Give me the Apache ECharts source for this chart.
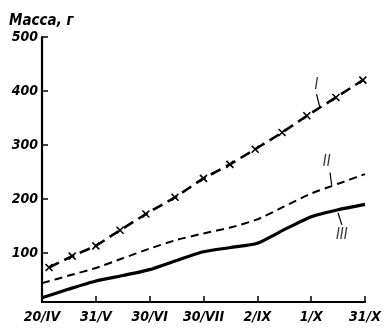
<!DOCTYPE html>
<html><head><meta charset="utf-8">
<script src="https://cdn.jsdelivr.net/npm/echarts@6/dist/echarts.min.js"></script>
<style>html,body{margin:0;padding:0;background:#fff}#c{width:384px;height:328px}</style>
</head><body><div id="c"></div>
<script>
var xTickLabels = ['20/IV','31/V','30/VI','30/VII','2/IX','1/X','31/X'];
var yTickValues = [100,200,300,400,500];
var yAxisTitle = 'Масса, г';

var seriesIx = [0.13,0.56,1.0,1.45,1.93,2.47,3.0,3.49,3.96,4.46,4.92,5.46,5.96];
var seriesIy = [73,94,113,142,172,203,238,264,292,323,354,388,420];
var seriesIIx = [0,0.5,1,1.5,2,2.5,3,3.5,4,4.5,5,5.5,6];
var seriesIIy = [44,58,72,90,108,124,136,147,162,186,210,228,246];
var seriesIIIx = [0,0.5,1,1.5,2,2.5,3,3.5,4,4.5,5,5.5,6];
var seriesIIIy = [17,33,48,58,69,86,102,110,118,143,167,180,190];

var labelNames = ['I','II','III'];
var labelPos = [[5.10,411],[5.29,268],[5.57,133]];
var leaderLines = [[[5.10,394],[5.16,370]],[[5.35,249],[5.38,226]],[[5.50,174],[5.57,152]]];

function pairs(xs, ys){ return xs.map(function(x,i){return [x, ys[i]];}); }

var font = {fontFamily:'"DejaVu Sans Condensed", "DejaVu Sans", sans-serif', fontStyle:'italic', color:'#000'};
var chart = echarts.init(document.getElementById('c'));
var series = [
  {type:'line', data:pairs(seriesIx,seriesIy), symbol:'path://M0,0L10,10M10,0L0,10', symbolSize:7,
   itemStyle:{color:'#000', borderColor:'#000', borderWidth:1.6},
   lineStyle:{color:'#000', width:2.6, type:[11,6]}, silent:true, animation:false},
  {type:'line', data:pairs(seriesIIx,seriesIIy), symbol:'none', smooth:0.2,
   lineStyle:{color:'#000', width:2, type:[8,5]}, animation:false},
  {type:'line', data:pairs(seriesIIIx,seriesIIIy), symbol:'none', smooth:0.2,
   lineStyle:{color:'#000', width:3.2}, animation:false}
];
leaderLines.forEach(function(l){
  series.push({type:'line', data:l, symbol:'none', lineStyle:{color:'#000', width:1.2}, animation:false});
});
series.push({type:'scatter', data:labelPos.map(function(p,i){return {value:p, name:labelNames[i]};}),
  symbolSize:0, animation:false,
  label:Object.assign({show:true, position:'inside', formatter:function(p){return p.name;}, fontSize:15}, font)});

chart.setOption({
  animation:false,
  title:{text:yAxisTitle, left:4, top:9, textStyle:Object.assign({fontSize:15, fontWeight:'bold'}, font)},
  grid:{left:42, right:19, top:37, bottom:26},
  xAxis:{type:'value', min:0, max:6, interval:1,
    axisLine:{lineStyle:{color:'#000', width:2.2}},
    axisTick:{inside:true, length:6, lineStyle:{color:'#000', width:1.5}},
    axisLabel:Object.assign({fontSize:14, fontWeight:'bold', margin:8, formatter:function(v){return xTickLabels[Math.round(v)];}}, font),
    splitLine:{show:false}},
  yAxis:{type:'value', min:9, max:500,
    axisLine:{show:true, lineStyle:{color:'#000', width:2.2}},
    axisTick:{show:true, inside:true, length:6, customValues:yTickValues, lineStyle:{color:'#000', width:1.5}},
    axisLabel:Object.assign({fontSize:14, fontWeight:'bold', margin:4, customValues:yTickValues}, font),
    splitLine:{show:false}},
  series:series
});
</script></body></html>
